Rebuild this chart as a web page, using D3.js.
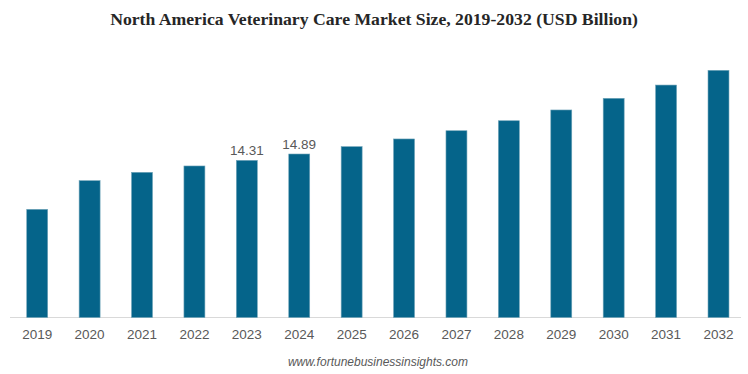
<!DOCTYPE html>
<html><head><meta charset="utf-8">
<script src="https://cdn.jsdelivr.net/npm/d3@7"></script>
<style>body{margin:0;background:#fff}</style>
</head><body>
<svg id="c" width="748" height="374"></svg>
<script>
const years = ["2019","2020","2021","2022","2023","2024","2025","2026","2027","2028","2029","2030","2031","2032"];
const values = [9.85,12.46,13.22,13.80,14.31,14.89,15.56,16.26,17.01,17.92,18.90,19.96,21.17,22.51];
const labelled = {"2023":"14.31","2024":"14.89"};
const title = "North America Veterinary Care Market Size, 2019-2032 (USD Billion)";
const source = "www.fortunebusinessinsights.com";

const svg = d3.select("#c");
const x = d3.scaleBand().domain(years).range([11, 744.7]).paddingInner(0.6).paddingOuter(0.3);
const y = d3.scaleLinear().domain([0, 25]).range([317.5, 43]);

svg.append("text").attr("x", 374).attr("y", 25).attr("text-anchor","middle")
  .attr("font-family","'Liberation Serif','Times New Roman',serif").attr("font-weight","bold")
  .attr("font-size",17.7).attr("fill","#262626").text(title);

svg.append("line").attr("x1",10).attr("x2",741).attr("y1",317.5).attr("y2",317.5)
  .attr("stroke","#d9d9d9").attr("stroke-width",1);

svg.selectAll("rect.bar").data(years).join("rect").attr("class","bar")
  .attr("x", d => x(d)).attr("width", x.bandwidth())
  .attr("y", (d,i) => y(values[i])).attr("height", (d,i) => y(0) - y(values[i]))
  .attr("fill","#05648a").attr("stroke","#6fa3b8").attr("stroke-width",0.6);

const ax = d3.axisBottom(x).tickSize(0).tickPadding(0);
const g = svg.append("g").attr("transform","translate(0,329.5)").call(ax);
g.select(".domain").remove();
g.selectAll("text").attr("font-family","'Liberation Sans',Arial,sans-serif").attr("font-size",13.5)
  .attr("fill","#595959").attr("dy","0.71em");

svg.selectAll("text.val").data(years.filter(d => labelled[d])).join("text").attr("class","val")
  .attr("x", d => x(d) + x.bandwidth()/2).attr("y", d => y(values[years.indexOf(d)]) - 5)
  .attr("text-anchor","middle").attr("font-family","'Liberation Sans',Arial,sans-serif")
  .attr("font-size",13.5).attr("fill","#595959").text(d => labelled[d]);

svg.append("text").attr("x", 378).attr("y", 366).attr("text-anchor","middle")
  .attr("font-family","'Liberation Sans',Arial,sans-serif").attr("font-style","italic")
  .attr("font-size",12).attr("fill","#595959").text(source);
</script>
</body></html>
